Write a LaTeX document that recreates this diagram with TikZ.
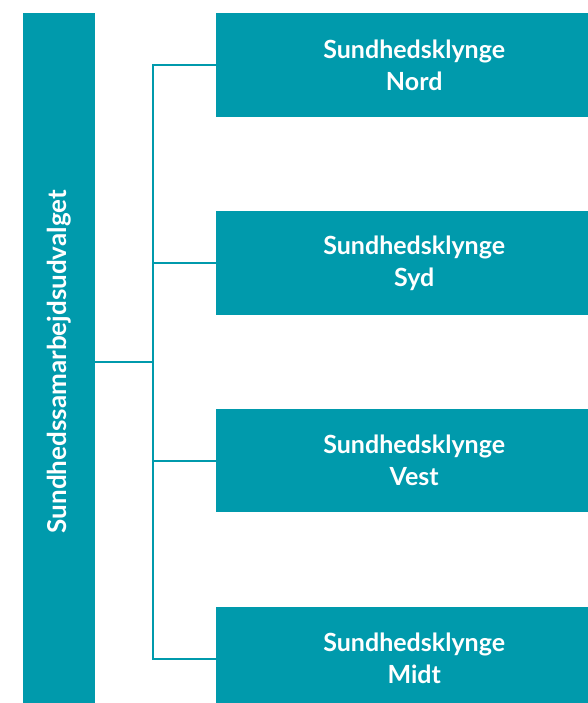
\documentclass[tikz,border=0pt]{standalone}
\usepackage{fontspec}
\setmainfont{Lato}
\usetikzlibrary{positioning}
\definecolor{klyngeteal}{RGB}{0,154,172}
\newcommand{\bxw}{396pt}
\newcommand{\bxh}{103.5pt}
\newcommand{\bxgap}{94pt}
\newcommand{\barw}{72pt}
\newcommand{\barh}{697pt}
\newcommand{\hubx}{58pt}

\tikzset{
  klynge/.style={fill=klyngeteal, text=white, font=\bfseries\fontsize{25}{32}\selectfont,
    align=center, minimum width=\bxw, minimum height=\bxh, inner sep=0pt},
  udvalgbar/.style={fill=klyngeteal, minimum width=\barw, minimum height=\barh, inner sep=0pt},
  link/.style={draw=klyngeteal, line width=2pt}
}

\begin{document}
\begin{tikzpicture}[x=1pt,y=1pt]
  \useasboundingbox (0,0) rectangle (588,703);
  \clip (0,0) rectangle (588,703);

  % left bar
  \node[udvalgbar, anchor=north west] (udvalg) at (23,690) {};
  \node[rotate=90, text=white, font=\bfseries\fontsize{26}{32}\selectfont] (udvalgtxt)
    at (udvalg.center) {Sundhedssamarbejdsudvalget};

  % clusters
  \node[klynge, anchor=north west] (nord) at (216,690) {Sundhedsklynge\\Nord};
  \node[klynge, below=\bxgap of nord] (syd) {Sundhedsklynge\\Syd};
  \node[klynge, below=\bxgap of syd] (vest) {Sundhedsklynge\\Vest};
  \node[klynge, below=\bxgap of vest] (midt) {Sundhedsklynge\\Midt};

  % connectors
  \coordinate[right=\hubx of udvalg.east] (hub);
  \draw[link] (udvalg.east) -- (hub);
  \draw[link] (nord.west) -- (hub |- nord.west) -- (hub |- midt.west) -- (midt.west);
  \draw[link] (hub |- syd.west) -- (syd.west);
  \draw[link] (hub |- vest.west) -- (vest.west);

\end{tikzpicture}
\end{document}
